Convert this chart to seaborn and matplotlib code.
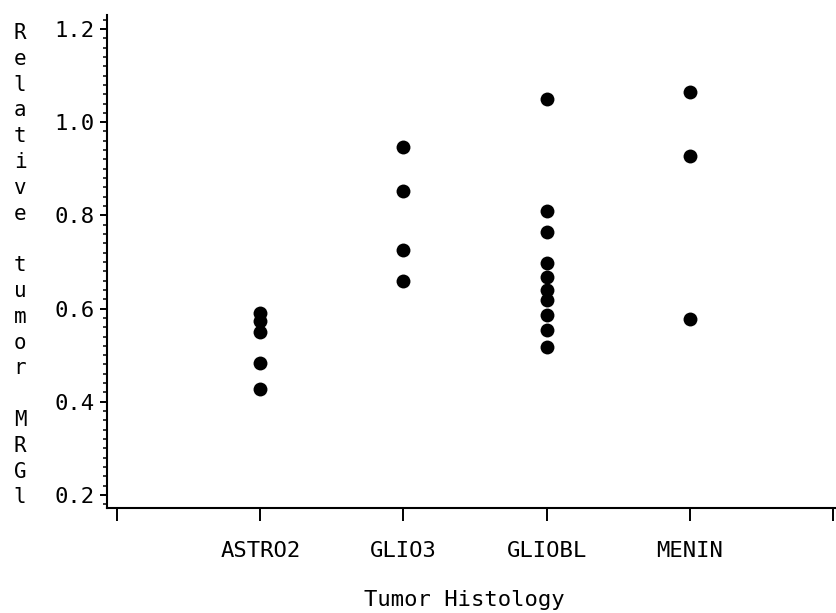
import matplotlib
matplotlib.use("Agg")
import matplotlib.pyplot as plt
from matplotlib.ticker import MultipleLocator
import seaborn as sns
import pandas as pd

# ---- data ----
astro2 = [0.591, 0.573, 0.550, 0.483, 0.427]
glio3 = [0.947, 0.852, 0.726, 0.659]
gliobl = [1.050, 0.809, 0.764, 0.698, 0.668, 0.640, 0.618, 0.586, 0.554, 0.518]
menin = [1.065, 0.927, 0.578]
categories = ["ASTRO2", "GLIO3", "GLIOBL", "MENIN"]
x_title = "Tumor Histology"
y_title = "Relative tumor MRGl"
yticks = [0.2, 0.4, 0.6, 0.8, 1.0, 1.2]

groups = [astro2, glio3, gliobl, menin]
df = pd.DataFrame({
    "hist": [c for c, g in zip(categories, groups) for _ in g],
    "val": [v for g in groups for v in g],
})

sns.set_style("ticks")
plt.rcParams["font.family"] = ["DejaVu Sans Mono", "DejaVu Sans"]
plt.rcParams["text.color"] = "black"
plt.rcParams["xtick.color"] = "black"
plt.rcParams["ytick.color"] = "black"

W, H = 836, 613
fig = plt.figure(figsize=(W / 100, H / 100), dpi=100)
ax = fig.add_axes([107 / W, 1 - 508 / H, (W - 107) / W, (508 - 15) / H])

order = [""] + categories + [" "]
sns.stripplot(data=df, x="hist", y="val", order=order, jitter=False,
              color="black", size=10, linewidth=0, ax=ax)

ax.set_xlim(-0.07, 5.02)
ax.set_ylim(0.172, 1.230)
ax.set_xticks(range(len(order)))
ax.set_xticklabels(order, fontsize=16, color="black")
ax.set_yticks(yticks)
ax.set_yticklabels([f"{t:.1f}" for t in yticks], fontsize=16, color="black")
ax.yaxis.set_minor_locator(MultipleLocator(0.02))

ax.tick_params(axis="x", which="major", direction="out", length=9, width=1.4,
               pad=15, color="black")
ax.tick_params(axis="y", which="major", direction="out", length=5, width=1.4,
               pad=4, color="black")
ax.tick_params(axis="y", which="minor", direction="out", length=3, width=1.1,
               color="black")

for s in ["top", "right"]:
    ax.spines[s].set_visible(False)
for s in ["left", "bottom"]:
    ax.spines[s].set_linewidth(1.5)
    ax.spines[s].set_color("black")

ax.set_xlabel("")
ax.set_ylabel("")
fig.text((107 + W) / 2 / W - 0.008, 1 - 600 / H, x_title, ha="center", va="center",
         fontsize=16, color="black")

# stacked vertical y-axis title
top_px, step_px = 33, 25.8
for i, ch in enumerate(y_title):
    if ch == " ":
        continue
    fig.text(20 / W, 1 - (top_px + i * step_px) / H, ch, ha="center", va="center",
             fontsize=15, color="black")

fig.savefig("out.png", dpi=100)
